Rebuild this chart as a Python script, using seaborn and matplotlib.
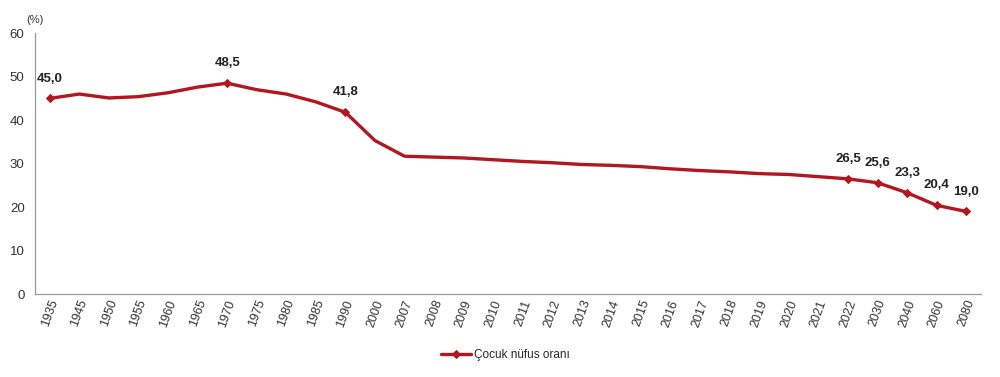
import matplotlib
matplotlib.use("Agg")
import matplotlib.pyplot as plt
import seaborn as sns
import pandas as pd
import numpy as np

years = ["1935", "1945", "1950", "1955", "1960", "1965", "1970", "1975", "1980", "1985",
         "1990", "2000", "2007", "2008", "2009", "2010", "2011", "2012", "2013", "2014",
         "2015", "2016", "2017", "2018", "2019", "2020", "2021", "2022", "2030", "2040",
         "2060", "2080"]
ratio = [45.0, 46.0, 45.1, 45.4, 46.3, 47.6, 48.5, 47.0, 46.0, 44.2,
         41.8, 35.3, 31.7, 31.5, 31.3, 30.9, 30.5, 30.2, 29.8, 29.6,
         29.3, 28.8, 28.4, 28.1, 27.7, 27.5, 27.0, 26.5, 25.6, 23.3,
         20.4, 19.0]
labelled = ["1935", "1970", "1990", "2022", "2030", "2040", "2060", "2080"]

df = pd.DataFrame({"year": years, "ratio": ratio})
mark_idx = [years.index(y) for y in labelled]

red = "#B2161E"
sns.set_style("white")
plt.rcParams["font.family"] = ["Liberation Sans", "DejaVu Sans"]

fig = plt.figure(figsize=(10, 3.77), dpi=100)
ax = fig.add_axes([0.035, 0.22, 0.946, 0.692])

sns.lineplot(data=df, x="year", y="ratio", ax=ax, sort=False, color=red, linewidth=2.4,
             marker="D", markersize=4.5, markevery=mark_idx, markeredgecolor=red,
             label="Çocuk nüfus oranı")

for y in labelled:
    i = years.index(y)
    v = ratio[i]
    ax.annotate(f"{v:.1f}".replace(".", ","), (i, v), xytext=(0, 10), textcoords="offset points",
                ha="center", va="bottom", fontsize=9.5, fontweight="bold", color="#222222")

ax.set_xlim(-0.5, len(years) - 0.5)
ax.set_ylim(0, 60)
ax.set_yticks(range(0, 61, 10))
ax.set_xticks(range(len(years)))
ax.set_xticklabels(years, rotation=70, ha="center", fontsize=9, color="#333333")
ax.set_xticks(np.arange(-0.5, len(years), 1), minor=True)
ax.tick_params(axis="x", which="major", length=0, pad=3)
ax.tick_params(axis="x", which="minor", length=4, color="#999999", width=0.8)
ax.tick_params(axis="y", length=4, color="#999999", width=0.8, labelsize=9.5, labelcolor="#333333")
ax.set_xlabel("")
ax.set_ylabel("")
for s in ["top", "right"]:
    ax.spines[s].set_visible(False)
for s in ["left", "bottom"]:
    ax.spines[s].set_color("#999999")
    ax.spines[s].set_linewidth(0.9)

fig.text(0.026, 0.94, "(%)", fontsize=8, color="#333333")

ax.legend(loc="center", bbox_to_anchor=(0.497, -0.234), frameon=False, fontsize=8.5,
          handlelength=2.6, handletextpad=0.2)

fig.savefig("out.png", dpi=100)
